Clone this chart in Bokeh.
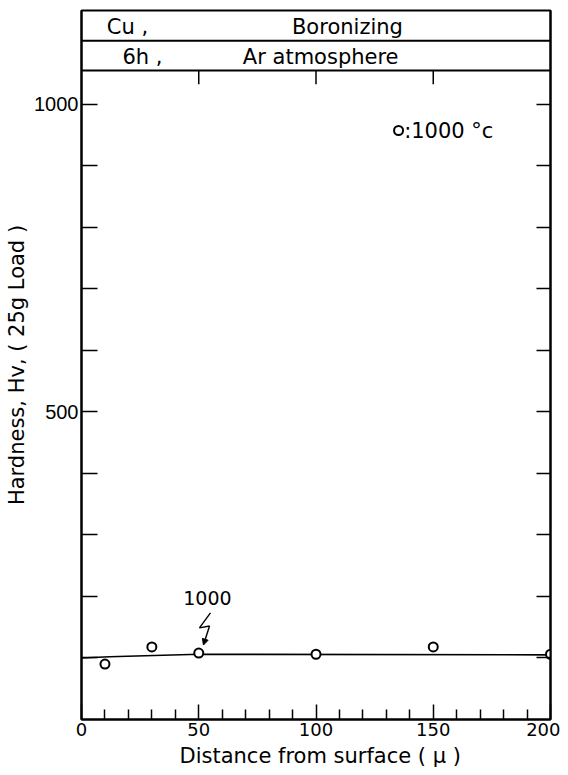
from bokeh.plotting import figure
from bokeh.models import Range1d, LinearAxis, FixedTicker, Span, Title, Arrow, NormalHead
from bokeh.core.properties import value
from bokeh.embed import file_html
from bokeh.resources import INLINE

# ---- data ----
depth_um = [10, 30, 50, 100, 150, 200]
hardness_hv = [90, 118, 108, 106, 118, 106]
trend_depth = [0, 12, 50, 200]
trend_hv = [100, 102, 106, 105]

x_major_ticks = [0, 50, 100, 150, 200]
x_minor_ticks = [10, 20, 30, 40, 60, 70, 80, 90, 110, 120, 130, 140, 160, 170, 180, 190]
x_top_ticks = [50, 100, 150]
y_major_ticks = [500, 1000]
y_minor_ticks = [100, 200, 300, 400, 600, 700, 800, 900]
y_right_ticks = [100, 200, 300, 400, 500, 600, 700, 800, 900, 1000]

header_row1 = ["Cu ,", "Boronizing"]
header_row2 = ["6h ,", "Ar atmosphere"]
legend_text = ":1000 °c"
callout_text = "1000"
x_title = "Distance from surface ( μ )"
y_title = "Hardness, Hv, ( 25g Load )"

FONT = "DejaVu Sans"

p = figure(width=560, height=775,
           x_range=Range1d(0, 200), y_range=Range1d(0, 1152),
           x_axis_type=None, y_axis_type=None,
           output_backend="svg", toolbar_location=None,
           min_border_left=81, min_border_right=10,
           min_border_top=10, min_border_bottom=56)
p.xgrid.visible = False
p.ygrid.visible = False
p.outline_line_color = "black"
p.outline_line_width = 2
p.background_fill_color = "white"
p.border_fill_color = "white"

# bottom axis
xa = LinearAxis(ticker=FixedTicker(ticks=x_major_ticks, minor_ticks=x_minor_ticks))
xa.axis_line_color = "black"
xa.axis_line_width = 2
xa.major_tick_in = 15
xa.major_tick_out = 0
xa.minor_tick_in = 10
xa.minor_tick_out = 0
xa.major_tick_line_width = 1.5
xa.minor_tick_line_width = 1.5
xa.major_label_standoff = 3
xa.major_label_text_font = FONT
xa.major_label_text_font_size = "18px"
xa.major_label_text_color = "black"
p.add_layout(xa, "below")

# x title, shifted right like the reference
p.add_layout(Title(text=x_title, align="left", offset=98, standoff=6,
                   text_font=FONT, text_font_size="21px", text_font_style="normal",
                   text_color="black"), "below")

# left axis
ya = LinearAxis(ticker=FixedTicker(ticks=y_major_ticks, minor_ticks=y_minor_ticks))
ya.axis_line_color = "black"
ya.axis_line_width = 2
ya.major_tick_in = 16
ya.major_tick_out = 0
ya.minor_tick_in = 16
ya.minor_tick_out = 0
ya.major_tick_line_width = 1.5
ya.minor_tick_line_width = 1.5
ya.major_label_standoff = 3
ya.major_label_text_font = "Liberation Sans"
ya.major_label_text_font_size = "20px"
ya.major_label_text_color = "black"
ya.axis_label = y_title
ya.axis_label_text_font = FONT
ya.axis_label_text_font_style = "normal"
ya.axis_label_text_font_size = "21px"
ya.axis_label_text_color = "black"
ya.axis_label_standoff = 2
p.add_layout(ya, "left")

# right axis (ticks only)
ra = LinearAxis(ticker=FixedTicker(ticks=[], minor_ticks=y_right_ticks))
ra.axis_line_color = "black"
ra.axis_line_width = 2
ra.minor_tick_in = 14
ra.minor_tick_out = 0
ra.minor_tick_line_width = 1.5
ra.major_tick_in = 0
ra.major_tick_out = 0
p.add_layout(ra, "right")

# header box lines
for loc in (1054.5, 1103):
    p.add_layout(Span(location=loc, dimension="width", line_color="black", line_width=2))

# top ticks hanging from the header
p.segment(x0=x_top_ticks, y0=[1054.5] * len(x_top_ticks),
          x1=x_top_ticks, y1=[1032] * len(x_top_ticks),
          line_color="black", line_width=1.5)

# header texts
p.text(x=[19.6, 113.4], y=[1126, 1126], text=header_row1,
       text_font=value(FONT), text_font_size="21px", text_color="black",
       text_align="center", text_baseline="middle")
p.text(x=[26.0, 102.0], y=[1076, 1076], text=header_row2,
       text_font=value(FONT), text_font_size="21px", text_color="black",
       text_align="center", text_baseline="middle")

# trend line and data points
p.line(trend_depth, trend_hv, line_color="black", line_width=1.6)
p.scatter(depth_um, hardness_hv, marker="circle", size=9,
          fill_color="white", line_color="black", line_width=2)

# legend
p.scatter([135.2], [957], marker="circle", size=9,
          fill_color="white", line_color="black", line_width=2)
p.text(x=[137.6], y=[957], text=[legend_text],
       text_font=value(FONT), text_font_size="21px", text_color="black",
       text_align="left", text_baseline="middle")

# callout "1000" with zigzag arrow
p.text(x=[53.7], y=[197.6], text=[callout_text],
       text_font=value(FONT), text_font_size="19px", text_color="black",
       text_align="center", text_baseline="middle")
p.line([55.0, 50.3, 54.6], [173.2, 148.8, 152.0], line_color="black", line_width=1.4)
p.add_layout(Arrow(end=NormalHead(size=6, fill_color="black", line_color="black"),
                   x_start=54.6, y_start=152.0, x_end=52.0, y_end=121.0,
                   line_color="black", line_width=1.4))

open("out.html", "w").write(file_html(p, INLINE))
